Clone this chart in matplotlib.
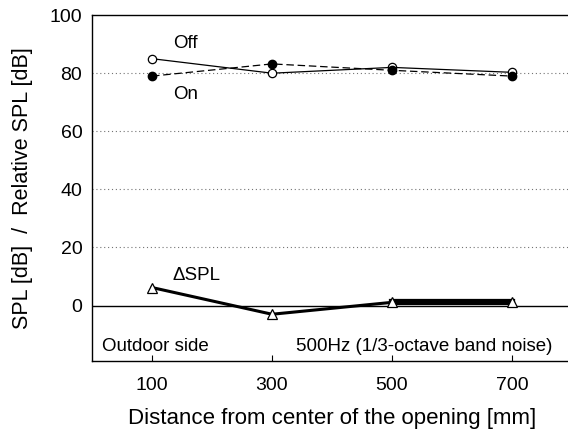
import matplotlib
matplotlib.use('Agg')
import matplotlib.pyplot as plt

plt.rcParams['font.family'] = ['Liberation Sans', 'DejaVu Sans']

# distances from the opening centre [mm]
distance = [100, 300, 500, 700]
spl_off = [85, 80, 82, 80.3]
spl_on = [79, 83.2, 81, 79]
delta_spl = [6.2, -3.0, 1.1, 1.1]

fig = plt.figure(figsize=(5.68, 4.32), dpi=100)
ax = fig.add_axes([0.162, 0.165, 0.845, 0.8])

for y in [20, 40, 60, 80]:
    ax.axhline(y, color='0.45', lw=0.8, ls=(0, (1, 2.5)), zorder=1)
ax.axhline(0, color='black', lw=1.0, zorder=1)

ax.plot(distance, spl_off, '-', color='black', lw=0.9, marker='o', ms=6,
        mfc='white', mec='black', mew=0.9, zorder=3)
ax.plot(distance, spl_on, '--', color='black', lw=0.9, dashes=(6, 3), marker='o', ms=6,
        mfc='black', mec='black', zorder=3)
ax.plot(distance, delta_spl, '-', color='black', lw=2.2, zorder=2)
# the last segment is drawn heavier in the original
ax.plot(distance[2:], delta_spl[2:], '-', color='black', lw=4.5, zorder=2)
ax.plot(distance, delta_spl, 'none', marker='^', ms=7, mfc='white', mec='black',
        mew=0.9, zorder=3)

ax.text(135, 90.3, 'Off', fontsize=13.5, va='center')
ax.text(135, 72.8, 'On', fontsize=13.5, va='center')
ax.text(134, 10.3, '\u0394SPL', fontsize=13.5, va='center')
ax.text(17, -14, 'Outdoor side', fontsize=13.5, va='center')
ax.text(767, -14, '500Hz (1/3-octave band noise)', fontsize=13.5, va='center', ha='right')

ax.set_xlim(0, 800)
ax.set_ylim(-19, 100)
ax.set_xticks(distance)
ax.set_yticks([0, 20, 40, 60, 80, 100])
ax.tick_params(axis='x', direction='in', length=4, width=0.8, labelsize=14, pad=11.5)
ax.tick_params(axis='y', length=0, labelsize=14, pad=7)

ax.spines['right'].set_visible(False)
for s in ['left', 'bottom', 'top']:
    ax.spines[s].set_linewidth(1.0)

ax.set_xlabel('Distance from center of the opening [mm]', fontsize=16, labelpad=10)
ax.set_ylabel('SPL [dB]  /  Relative SPL [dB]', fontsize=15.5, labelpad=12)

fig.savefig('out.png', dpi=100)
